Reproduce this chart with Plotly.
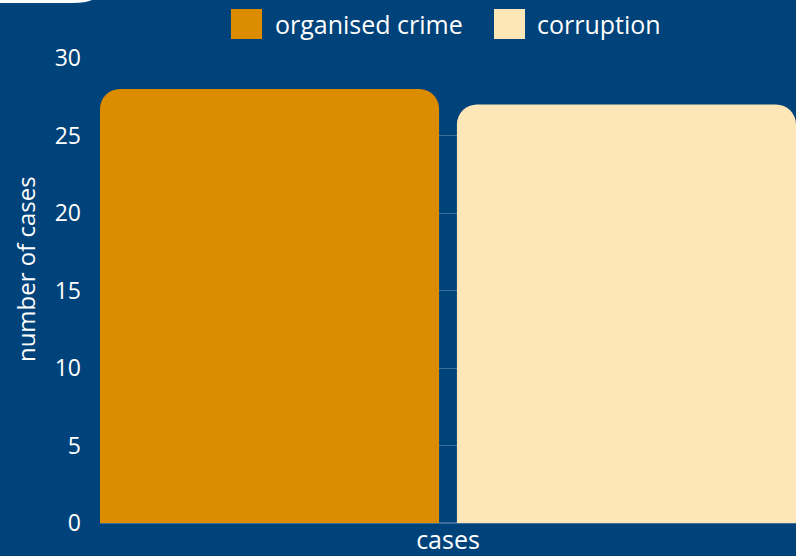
import plotly.graph_objects as go

categories = ["cases"]
organised_crime = [28]
corruption = [27]
series_names = ["organised crime", "corruption"]
series_colors = ["#db8c00", "#fde6b8"]
y_ticks = [0, 5, 10, 15, 20, 25, 30]
y_title = "number of cases"

BG = "#00427a"
GAP = 0.05
fig = go.Figure()
fig.add_trace(go.Bar(x=categories, y=organised_crime, name=series_names[0],
                     marker=dict(color=series_colors[0], line=dict(width=0))))
fig.add_trace(go.Bar(x=categories, y=corruption, name=series_names[1],
                     marker=dict(color=series_colors[1], line=dict(width=0))))

# manual legend (large swatches)
shapes = []
annotations = []
legend_pos = [(0.1882, 0.2328, 0.2486), (0.5661, 0.6106, 0.625)]
for name, col, (x0, x1, xt) in zip(series_names, series_colors, legend_pos):
    shapes.append(dict(type="rect", xref="paper", yref="paper", x0=x0, x1=x1,
                       y0=1.0409, y1=1.1054, fillcolor=col, line=dict(width=0)))
    annotations.append(dict(text=name, xref="paper", yref="paper", x=xt, y=1.0731,
                            xanchor="left", yanchor="middle", showarrow=False,
                            font=dict(size=25, color="white")))

# y axis title
annotations.append(dict(text=y_title, xref="paper", yref="paper", x=-0.1078, y=0.546,
                        xanchor="center", yanchor="middle", textangle=-90,
                        showarrow=False, font=dict(size=24, color="white")))

shapes.append(dict(type="path", xref="paper", yref="paper", layer="above",
                   path="M -0.16,1.14 L -0.0115,1.14 L -0.0115,1.1247 Q -0.02,1.1183 -0.04,1.1183 L -0.16,1.1183 Z",
                   fillcolor="white", line=dict(width=0)))

fig.update_layout(
    width=796, height=556,
    paper_bgcolor=BG, plot_bgcolor=BG,
    margin=dict(l=100, r=0, t=58, b=33),
    font=dict(family="Open Sans", color="white", size=23),
    showlegend=False,
    barmode="group", bargap=0.0, bargroupgap=GAP, barcornerradius=20,
    xaxis=dict(showgrid=False, tickfont=dict(size=25), ticks="", zeroline=False,
               showline=False, range=[-0.5 + 0.25 * GAP, 0.5 - 0.25 * GAP]),
    yaxis=dict(range=[0, 30], tickvals=y_ticks, gridcolor="#3f6e9c", gridwidth=1,
               zeroline=True, zerolinecolor="#3f6e9c", ticklabelstandoff=18),
    shapes=shapes,
    annotations=annotations,
)
fig.write_html("out.html", config={"displayModeBar": False},
               post_script="document.body.style.margin='0';document.body.style.overflow='hidden';")
